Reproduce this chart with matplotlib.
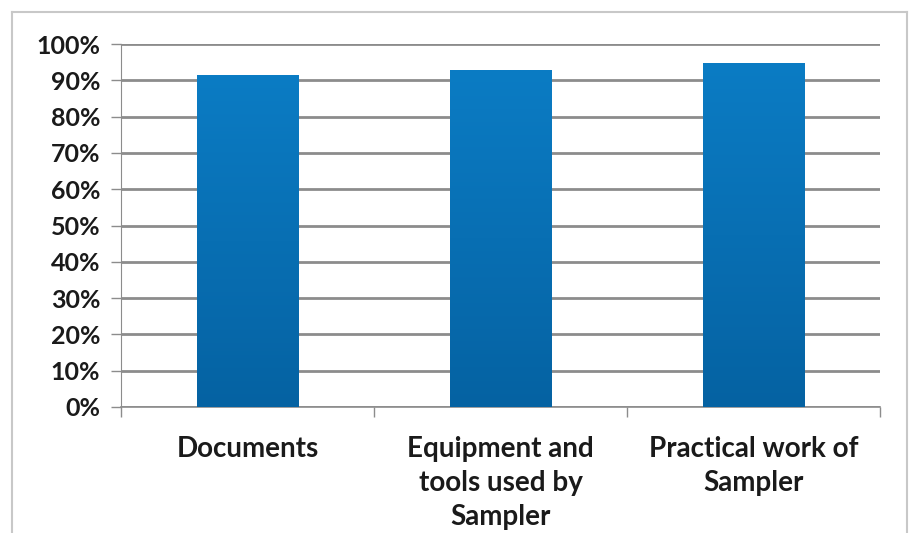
import numpy as np
import matplotlib.pyplot as plt
from matplotlib.colors import LinearSegmentedColormap
from matplotlib.lines import Line2D

# data
categories = ["Documents", "Equipment and\ntools used by\nSampler", "Practical work of\nSampler"]
values = [91.4, 92.9, 94.8]
yticks = list(range(0, 101, 10))

plt.rcParams['font.family'] = ['Lato', 'DejaVu Sans']

fig = plt.figure(figsize=(9.11, 5.33), dpi=100)
ax = fig.add_axes([121 / 911, 1 - 407 / 533, (880 - 121) / 911, (407 - 44) / 533])

x = np.arange(len(categories))
bars = ax.bar(x, values, width=0.4, color='#0a72b8', zorder=3)

# vertical gradient inside every bar, like the office chart style
cmap = LinearSegmentedColormap.from_list('blu', ['#0562a2', '#0b7cc4'])
grad = np.linspace(0, 1, 256).reshape(-1, 1)
for b in bars:
    x0, y0 = b.get_x(), b.get_y()
    im = ax.imshow(grad, extent=(x0, x0 + b.get_width(), y0, y0 + b.get_height()),
                   origin='lower', cmap=cmap, aspect='auto', zorder=3)
    im.set_clip_path(b)

ax.set_xlim(-0.5, len(categories) - 0.5)
ax.set_ylim(0, 100)
ax.set_yticks(yticks)
ax.set_yticklabels([f"{t}%" for t in yticks])
ax.yaxis.grid(True, color='#8c8c8c', linewidth=2, zorder=0)
ax.set_axisbelow(True)

ax.set_xticks(x)
ax.set_xticklabels(categories, fontsize=20, fontweight='bold', color='#1a1a1a',
                   linespacing=1.38, va='top')
ax.tick_params(axis='x', length=0, pad=21)
# boundary ticks between categories
ax.set_xticks(np.arange(len(categories) + 1) - 0.5, minor=True)
ax.tick_params(axis='x', which='minor', length=7, color='#8c8c8c', width=1, direction='out')
ax.tick_params(axis='y', length=7, color='#8c8c8c', width=1, labelsize=18, pad=8,
               labelcolor='#1a1a1a')
for lab in ax.get_yticklabels():
    lab.set_fontweight('bold')

for s in ['top', 'right']:
    ax.spines[s].set_visible(False)
ax.spines['left'].set_color('#8c8c8c')
ax.spines['bottom'].set_color('#8c8c8c')
ax.spines['bottom'].set_linewidth(1.2)

# light frame around the chart
fx0, fx1, fy1 = 12 / 911, 907 / 911, 1 - 12 / 533
frame_kw = dict(transform=fig.transFigure, color='#c8c8c8', linewidth=1.5)
fig.add_artist(Line2D([fx0, fx0], [0, fy1], **frame_kw))
fig.add_artist(Line2D([fx0, fx1], [fy1, fy1], **frame_kw))
fig.add_artist(Line2D([fx1, fx1], [0, fy1], **frame_kw))

fig.savefig('out.png', dpi=100)
